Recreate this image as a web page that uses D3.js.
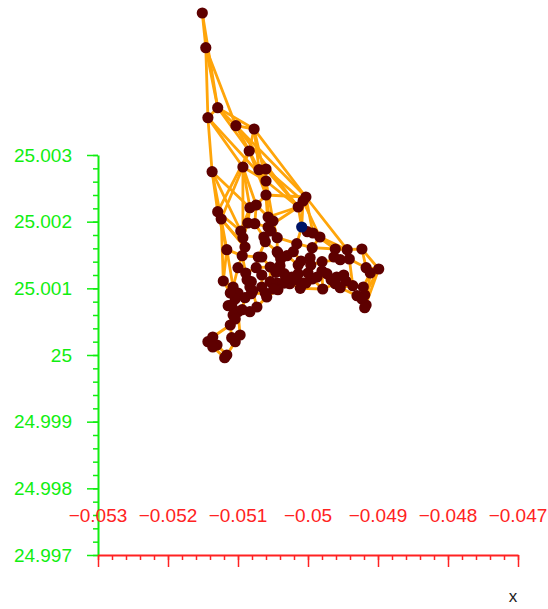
<!DOCTYPE html>
<html>
<head>
<meta charset="utf-8">
<script src="https://cdn.jsdelivr.net/npm/d3@7"></script>
<style>
  html, body { margin: 0; padding: 0; background: #fff; }
  svg { display: block; }
  text { font-family: "Liberation Sans", Arial, sans-serif; }
</style>
</head>
<body>
<svg id="chart" width="548" height="609"></svg>
<script>
// Axis ticks and their printed labels
const xTicks = [-0.053, -0.052, -0.051, -0.05, -0.049, -0.048, -0.047];
const xTickLabels = ["\u22120.053", "\u22120.052", "\u22120.051", "\u22120.05", "\u22120.049", "\u22120.048", "\u22120.047"];
const yTicks = [24.997, 24.998, 24.999, 25, 25.001, 25.002, 25.003];
const yTickLabels = ["24.997", "24.998", "24.999", "25", "25.001", "25.002", "25.003"];
const xAxisTitle = "x";

// Node coordinates (node n is at index n-1)
const nodeX = [
  -0.05151, -0.05146, -0.05129, -0.05143, -0.05103, -0.05077, -0.05084, -0.05137, -0.05093, -0.05070,
  -0.05060, -0.05060, -0.05060, -0.05003, -0.05007, -0.05014, -0.05083, -0.05074, -0.05129, -0.05124,
  -0.05086, -0.05076, -0.05057, -0.05050, -0.05009, -0.05057, -0.05053, -0.05001, -0.04993, -0.04983,
  -0.05096, -0.05093, -0.05090, -0.05063, -0.05061, -0.05044, -0.05016, -0.05116, -0.04994, -0.05044,
  -0.05094, -0.05071, -0.05066, -0.05030, -0.05021, -0.04961, -0.04944, -0.04923, -0.04963, -0.04954,
  -0.04941, -0.05010, -0.05014, -0.04997, -0.04996, -0.04980, -0.04980, -0.05054, -0.05040, -0.04917,
  -0.04911, -0.04899, -0.05089, -0.05121, -0.05034, -0.05029, -0.05023, -0.05033, -0.05026, -0.05017,
  -0.05014, -0.05000, -0.04994, -0.04987, -0.04973, -0.04967, -0.04959, -0.04949, -0.04946, -0.04936,
  -0.04979, -0.04961, -0.04954, -0.04921, -0.04919, -0.04930, -0.04923, -0.04917, -0.04919, -0.05087,
  -0.05083, -0.05079, -0.05066, -0.05061, -0.05059, -0.05107, -0.05100, -0.05104, -0.05109, -0.05104,
  -0.05100, -0.05094, -0.05111, -0.05073, -0.05083, -0.05111, -0.05143, -0.05136, -0.05130, -0.05109,
  -0.05097, -0.05104, -0.05116, -0.05119, -0.05090, -0.05081, -0.05054, -0.05044, -0.05036, -0.05043,
  -0.05030, -0.05136, -0.05114, -0.05107, -0.05104, -0.05081, -0.05043, -0.05007, -0.05046, -0.05074,
  -0.05066, -0.05011, -0.05003, -0.05049, -0.05039, -0.05100
];
const nodeY = [
  25.00513, 25.00461, 25.00371, 25.00356, 25.00344, 25.00339, 25.00306, 25.00275, 25.00282, 25.00278,
  25.00279, 25.00261, 25.00240, 25.00237, 25.00231, 25.00222, 25.00221, 25.00225, 25.00215, 25.00204,
  25.00198, 25.00197, 25.00207, 25.00201, 25.00192, 25.00192, 25.00186, 25.00185, 25.00183, 25.00177,
  25.00186, 25.00176, 25.00162, 25.00177, 25.00170, 25.00176, 25.00167, 25.00158, 25.00161, 25.00155,
  25.00149, 25.00147, 25.00147, 25.00149, 25.00155, 25.00159, 25.00158, 25.00159, 25.00147, 25.00143,
  25.00144, 25.00141, 25.00135, 25.00146, 25.00135, 25.00140, 25.00126, 25.00132, 25.00134, 25.00131,
  25.00123, 25.00129, 25.00123, 25.00111, 25.00122, 25.00113, 25.00117, 25.00108, 25.00107, 25.00113,
  25.00122, 25.00123, 25.00114, 25.00117, 25.00122, 25.00113, 25.00117, 25.00120, 25.00111, 25.00104,
  25.00099, 25.00107, 25.00101, 25.00102, 25.00090, 25.00089, 25.00084, 25.00075, 25.00071, 25.00113,
  25.00102, 25.00096, 25.00102, 25.00093, 25.00087, 25.00102, 25.00093, 25.00084, 25.00075, 25.00063,
  25.00065, 25.00068, 25.00093, 25.00072, 25.00065, 25.00045, 25.00020, 25.00027, 25.00015, 25.00026,
  25.00030, 25.00020, 25.00000, 24.99996, 25.00086, 25.00092, 25.00110, 25.00108, 25.00108, 25.00098,
  25.00116, 25.00012, 25.00074, 25.00060, 25.00054, 25.00110, 25.00153, 25.00108, 25.00124, 25.00131,
  25.00120, 25.00100, 25.00108, 25.00099, 25.00144, 25.00131
];
// The highlighted node
const highlightNode = 25;

// Links between nodes, as 1-based node numbers
const edgeFrom = [
  1, 1, 2, 2, 2, 3, 3, 3, 3, 4, 4, 4, 5, 5, 5, 5, 6, 6, 6, 6,
  7, 7, 7, 7, 8, 8, 8, 9, 9, 9, 9, 10, 10, 11, 11, 11, 12, 12, 12, 13,
  13, 13, 13, 14, 14, 14, 14, 15, 15, 16, 16, 16, 17, 17, 17, 18, 18, 19, 19, 19,
  20, 20, 20, 21, 21, 22, 22, 23, 24, 24, 25, 25, 26, 27, 27, 28, 29, 29, 30, 30,
  30, 31, 32, 33, 34, 35, 35, 36, 36, 37, 37, 38, 38, 38, 39, 39, 40, 40, 41, 41,
  42, 43, 44, 44, 45, 46, 46, 47, 47, 48, 48, 49, 50, 50, 51, 51, 52, 52, 53, 54,
  55, 56, 57, 58, 58, 59, 60, 60, 61, 62, 62, 61, 63, 63, 64, 64, 65, 65, 66, 66,
  67, 68, 68, 69, 70, 70, 71, 72, 72, 73, 74, 75, 76, 76, 77, 78, 79, 80, 81, 82,
  83, 84, 85, 86, 87, 88, 85, 90, 90, 91, 92, 93, 93, 94, 95, 96, 96, 97, 98, 99,
  100, 101, 102, 103, 104, 105, 106, 106, 106, 106, 107, 107, 108, 109, 110, 110, 111, 112, 113, 114,
  115, 115, 116, 117, 118, 119, 120, 120, 121, 124, 124, 123, 126, 127, 127, 97, 92, 57, 83, 55,
  128, 128, 129, 129, 12, 10, 9, 21, 33, 31, 20, 8,
  130, 130, 130, 131, 131, 131, 132, 132, 132, 133, 133, 133, 134, 134, 134, 135, 135, 135, 136, 136, 136
];
const edgeTo = [
  2, 3, 3, 4, 5, 4, 5, 6, 7, 8, 9, 12, 6, 7, 14, 16, 7, 10, 14, 12,
  9, 10, 13, 19, 19, 20, 17, 17, 12, 18, 20, 11, 12, 12, 15, 16, 13, 23, 24, 18,
  26, 27, 14, 15, 16, 29, 47, 25, 30, 25, 23, 26, 18, 21, 31, 22, 23, 20, 38, 31,
  38, 64, 33, 22, 32, 26, 34, 24, 27, 36, 28, 37, 27, 34, 36, 29, 30, 46, 39, 46,
  47, 32, 33, 41, 35, 42, 40, 37, 40, 45, 39, 41, 64, 96, 54, 46, 44, 127, 63, 42,
  43, 58, 45, 53, 52, 47, 49, 48, 51, 60, 62, 50, 51, 56, 60, 80, 53, 54, 71, 55,
  56, 57, 75, 59, 117, 65, 61, 62, 84, 85, 89, 88, 90, 126, 96, 103, 67, 121, 67, 69,
  71, 69, 119, 70, 71, 73, 72, 73, 74, 81, 75, 76, 77, 82, 78, 79, 80, 84, 82, 83,
  86, 85, 86, 87, 88, 89, 89, 91, 126, 92, 116, 94, 117, 95, 104, 97, 103, 98, 99, 123,
  101, 102, 105, 98, 105, 101, 99, 125, 110, 108, 108, 122, 109, 113, 111, 112, 101, 113, 114, 122,
  116, 102, 94, 118, 119, 66, 118, 95, 66, 125, 100, 100, 91, 59, 44, 115, 104, 81, 80, 73,
  70, 69, 58, 59, 16, 13, 32, 31, 41, 41, 33, 31,
  58, 42, 63, 93, 117, 130, 69, 70, 81, 73, 132, 128, 120, 95, 94, 59, 40, 44, 63, 41, 96
];

const svg = d3.select("#chart");

const x = d3.scaleLinear().domain([-0.053, -0.047]).range([98, 518]);
const y = d3.scaleLinear().domain([24.997, 25.003]).range([555, 155]);

const green = "#11ee11";
const red = "#ff2222";

// Minor tick positions: five divisions between labelled ticks
const xMinor = d3.range(0, 31).map(i => -0.053 + i * 0.0002);
const yMinor = d3.range(0, 31).map(i => 24.997 + i * 0.0002);

// ---- y axis (green) ----
const yAxisMinor = svg.append("g")
  .attr("transform", `translate(${x(-0.053)},0)`)
  .call(d3.axisLeft(y).tickValues(yMinor).tickSize(5).tickSizeOuter(0).tickFormat(""));
yAxisMinor.select(".domain").remove();
yAxisMinor.selectAll("line").attr("stroke", green).attr("stroke-width", 1.5);

const yAxis = svg.append("g")
  .attr("transform", `translate(${x(-0.053)},0)`)
  .call(d3.axisLeft(y).tickValues(yTicks).tickSize(11).tickSizeOuter(0).tickPadding(15)
    .tickFormat((d, i) => yTickLabels[i]));
yAxis.select(".domain").attr("stroke", green).attr("stroke-width", 2);
yAxis.selectAll("line").attr("stroke", green).attr("stroke-width", 1.5);
yAxis.selectAll("text")
  .attr("fill", green)
  .style("font-size", "19px")
  .style("font-family", "'Liberation Sans', Arial, sans-serif");

// ---- x axis (red) ----
const xAxisMinor = svg.append("g")
  .attr("transform", `translate(0,${y(24.997)})`)
  .call(d3.axisBottom(x).tickValues(xMinor).tickSize(5).tickSizeOuter(0).tickFormat(""));
xAxisMinor.select(".domain").remove();
xAxisMinor.selectAll("line").attr("stroke", red).attr("stroke-width", 1.5);

const xAxis = svg.append("g")
  .attr("transform", `translate(0,${y(24.997)})`)
  .call(d3.axisBottom(x).tickValues(xTicks).tickSize(12).tickSizeOuter(0).tickFormat(""));
xAxis.select(".domain").attr("stroke", red).attr("stroke-width", 2);
xAxis.selectAll("line").attr("stroke", red).attr("stroke-width", 1.5);

// x tick labels float above the axis line
svg.append("g").selectAll("text")
  .data(xTicks)
  .join("text")
  .attr("x", d => x(d))
  .attr("y", 522)
  .attr("text-anchor", "middle")
  .attr("fill", red)
  .style("font-size", "19px")
  .text((d, i) => xTickLabels[i]);

svg.append("text")
  .attr("x", 513)
  .attr("y", 602)
  .attr("text-anchor", "middle")
  .attr("fill", "#222")
  .style("font-size", "17px")
  .text(xAxisTitle);

// ---- network ----
const nodes = nodeX.map((vx, i) => ({ id: i + 1, x: vx, y: nodeY[i] }));
const edges = edgeFrom.map((s, i) => ({ source: nodes[s - 1], target: nodes[edgeTo[i] - 1] }));

svg.append("g")
  .attr("stroke", "#ffa50a")
  .attr("stroke-width", 2.8)
  .attr("stroke-linecap", "round")
  .selectAll("line")
  .data(edges)
  .join("line")
  .attr("x1", d => x(d.source.x))
  .attr("y1", d => y(d.source.y))
  .attr("x2", d => x(d.target.x))
  .attr("y2", d => y(d.target.y));

const ordered = nodes.filter(n => n.id !== highlightNode).concat(nodes.filter(n => n.id === highlightNode));
svg.append("g")
  .selectAll("circle")
  .data(ordered)
  .join("circle")
  .attr("cx", d => x(d.x))
  .attr("cy", d => y(d.y))
  .attr("r", 5.6)
  .attr("fill", d => d.id === highlightNode ? "#001466" : "#5e0000");
</script>
</body>
</html>
